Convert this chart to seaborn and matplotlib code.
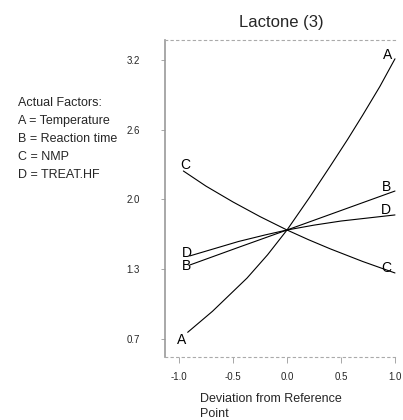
import matplotlib
matplotlib.use("Agg")
import matplotlib.pyplot as plt
import seaborn as sns
import pandas as pd

sns.set_theme(style="white")
plt.rcParams['font.family'] = ['Liberation Sans', 'DejaVu Sans']

# Data (deviation from reference point -> Lactone)
dev_A = [-0.92, -0.69, -0.37, -0.18, 0.0, 0.21, 0.40, 0.56, 0.70, 0.86, 1.0]
lac_A = [0.76, 0.95, 1.25, 1.46, 1.684, 1.98, 2.26, 2.50, 2.72, 2.98, 3.23]
dev_B = [-0.90, -0.45, 0.0, 0.5, 1.0]
lac_B = [1.368, 1.527, 1.684, 1.860, 2.036]
dev_C = [-0.96, -0.75, -0.5, -0.25, 0.0, 0.2, 0.4, 0.7, 1.0]
lac_C = [2.217, 2.08, 1.937, 1.805, 1.684, 1.596, 1.514, 1.40, 1.296]
dev_D = [-0.90, -0.45, -0.2, 0.0, 0.25, 0.5, 1.0]
lac_D = [1.45, 1.58, 1.64, 1.684, 1.728, 1.765, 1.82]

factors = ["A", "B", "C", "D"]
factor_names = ["Temperature", "Reaction time", "NMP", "TREAT.HF"]
y_ticks = [0.70, 1.33, 1.96, 2.59, 3.22]
y_tick_labels = ["0.7", "1.3", "2.0", "2.6", "3.2"]
x_ticks = [-1.0, -0.5, 0.0, 0.5, 1.0]
x_tick_labels = ["-1.0", "-0.5", "0.0", "0.5", "1.0"]

series = {"A": (dev_A, lac_A), "B": (dev_B, lac_B),
          "C": (dev_C, lac_C), "D": (dev_D, lac_D)}
rows = []
for f in factors:
    for xv, yv in zip(*series[f]):
        rows.append({"factor": f, "dev": xv, "lactone": yv})
df = pd.DataFrame(rows)

fig = plt.figure(figsize=(4.03, 4.20), dpi=100)
ax = fig.add_axes([165 / 403, 63 / 420, 233 / 403, 317 / 420])

sns.lineplot(data=df, x="dev", y="lactone", hue="factor", sort=True,
             palette={f: "black" for f in factors}, linewidth=0.8,
             legend=False, ax=ax, estimator=None)

# letter labels at the ends of each curve (offsets in pixels)
left_off = {"A": (-6, -8), "B": (-3, -1), "C": (2, 6), "D": (-3, 3)}
right_off = {"A": (-7, 4), "B": (-8, 4), "C": (-9, 5), "D": (-9, 5)}
for f in factors:
    xs, ys = series[f]
    ax.annotate(f, (xs[0], ys[0]), xytext=left_off[f], textcoords="offset pixels",
                ha="center", va="center", fontsize=10, color="black")
    ax.annotate(f, (xs[-1], ys[-1]), xytext=right_off[f], textcoords="offset pixels",
                ha="center", va="center", fontsize=10, color="black")

ax.set_xlim(-1.13, 1.028)
ax.set_ylim(0.537, 3.40)
ax.set_xticks(x_ticks)
ax.set_xticklabels(x_tick_labels, fontsize=7)
ax.set_yticks(y_ticks)
ax.set_yticklabels(y_tick_labels, fontsize=7)
ax.set_xlabel("")
ax.set_ylabel("")
ax.tick_params(axis="y", direction="out", length=3, width=0.6, pad=15,
               color="#999999", left=True)
ax.tick_params(axis="x", direction="out", length=4, width=0.6, pad=7,
               color="#999999", bottom=True)

for side in ["top", "bottom"]:
    ax.spines[side].set_color("#aaaaaa")
    ax.spines[side].set_linestyle((0, (2, 3)))
    ax.spines[side].set_linewidth(0.8)
ax.spines["left"].set_color("#999999")
ax.spines["left"].set_linestyle((0, (3, 1)))
ax.spines["left"].set_linewidth(1.2)
ax.spines["right"].set_visible(False)

ax.set_title("Lactone (3)", fontsize=12, pad=9)

fig.text(200 / 403, 1 - 393 / 420, "Deviation from Reference\nPoint",
         ha="left", va="top", fontsize=9, linespacing=1.3)

legend_lines = ["Actual Factors:"] + [f"{f} = {n}" for f, n in zip(factors, factor_names)]
for i, line in enumerate(legend_lines):
    fig.text(18 / 403, 1 - (103 + 18 * i) / 420, line, ha="left", va="center",
             fontsize=9)

fig.savefig("out.png", dpi=100)
